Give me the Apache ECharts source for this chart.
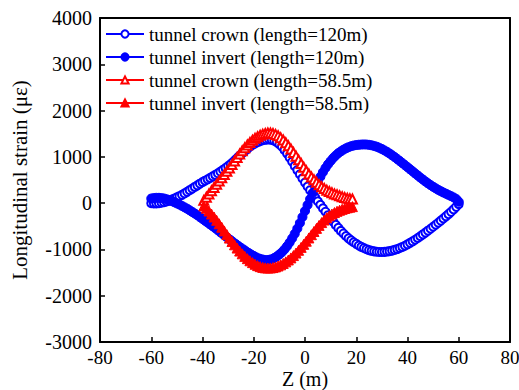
<!DOCTYPE html>
<html><head><meta charset="utf-8">
<script src="https://cdn.jsdelivr.net/npm/echarts@6/dist/echarts.min.js"></script>
<style>html,body{margin:0;padding:0;background:#fff}#c{width:519px;height:390px}</style>
</head><body><div id="c"></div>
<script>
const blueX = [-60,-59,-58,-57,-56,-55,-54,-53,-52,-51,
-50,-49,-48,-47,-46,-45,-44,-43,-42,-41,
-40,-39,-38,-37,-36,-35,-34,-33,-32,-31,
-30,-29,-28,-27,-26,-25,-24,-23,-22,-21,
-20,-19,-18,-17,-16,-15,-14,-13,-12,-11,
-10,-9,-8,-7,-6,-5,-4,-3,-2,-1,
0,1,2,3,4,5,6,7,8,9,
10,11,12,13,14,15,16,17,18,19,
20,21,22,23,24,25,26,27,28,29,
30,31,32,33,34,35,36,37,38,39,
40,41,42,43,44,45,46,47,48,49,
50,51,52,53,54,55,56,57,58,59,
60];
const crown120 = [0,-5,-5,0,10,20,35,55,75,100,
125,150,180,210,245,280,315,350,385,420,
455,485,515,545,580,610,645,680,720,760,
800,845,895,945,1000,1050,1100,1150,1200,1240,
1275,1305,1330,1350,1365,1372,1375,1368,1350,1320,
1275,1220,1150,1070,985,895,805,715,625,535,
445,360,280,200,120,40,-35,-110,-185,-260,
-330,-400,-470,-535,-600,-655,-710,-760,-805,-845,
-880,-915,-945,-970,-995,-1015,-1030,-1042,-1050,-1054,
-1055,-1052,-1046,-1037,-1025,-1010,-992,-970,-946,-920,
-890,-858,-825,-790,-753,-715,-676,-636,-595,-553,
-510,-467,-423,-378,-332,-285,-237,-188,-135,-80,
-20];
const invert120 = [100,110,115,115,110,100,85,65,45,20,
-5,-30,-60,-90,-120,-155,-190,-225,-260,-300,
-340,-380,-420,-460,-500,-540,-585,-630,-670,-715,
-760,-800,-845,-885,-925,-965,-1000,-1040,-1075,-1110,
-1140,-1170,-1195,-1210,-1225,-1230,-1225,-1210,-1185,-1150,
-1110,-1060,-1000,-930,-850,-760,-660,-550,-430,-300,
-170,-40,90,220,340,460,570,670,760,840,
910,975,1030,1080,1120,1155,1185,1210,1230,1245,
1255,1262,1266,1268,1266,1260,1250,1236,1218,1196,
1170,1140,1108,1073,1035,995,953,910,866,822,
777,732,687,642,597,553,510,468,428,390,
354,320,288,258,230,204,178,152,124,90,
30];
const redX = [-39.5,-38.5,-37.5,-36.5,-35.5,-34.5,-33.5,-32.5,-31.5,-30.5,
-29.5,-28.5,-27.5,-26.5,-25.5,-24.5,-23.5,-22.5,-21.5,-20.5,
-19.5,-18.5,-17.5,-16.5,-15.5,-14.5,-13.5,-12.5,-11.5,-10.5,
-9.5,-8.5,-7.5,-6.5,-5.5,-4.5,-3.5,-2.5,-1.5,-0.5,
0.5,1.5,2.5,3.5,4.5,5.5,6.5,7.5,8.5,9.5,
10.5,11.5,12.5,13.5,14.5,15.5,16.5,17.5,18.5];
const crown585 = [60,130,200,270,340,410,480,550,620,690,
760,835,910,985,1060,1130,1195,1255,1310,1360,
1400,1435,1465,1490,1505,1515,1515,1505,1485,1455,
1415,1365,1305,1240,1170,1095,1015,935,855,775,
700,630,565,505,450,400,355,315,280,250,
225,200,180,160,140,120,105,95,90];
const invert585 = [-60,-110,-170,-235,-300,-370,-445,-520,-600,-680,
-755,-830,-900,-970,-1035,-1095,-1150,-1200,-1245,-1285,
-1320,-1350,-1372,-1388,-1398,-1402,-1400,-1392,-1378,-1358,
-1333,-1303,-1268,-1228,-1183,-1133,-1078,-1018,-955,-890,
-822,-752,-682,-612,-545,-480,-420,-365,-315,-272,
-235,-203,-176,-153,-133,-115,-100,-87,-75];
const seriesNames = ['tunnel crown (length=120m)','tunnel invert (length=120m)','tunnel crown (length=58.5m)','tunnel invert (length=58.5m)'];
const xTitle = 'Z (m)';
const yTitle = 'Longitudinal strain (\u03bc\u03b5)';

const FONT = 'Liberation Serif';
const pair = (xs, ys) => xs.map((x, i) => [x, ys[i]]);
const BLUE = '#0000ff', RED = '#ff0000';
const plain = v => String(v);
function mk(name, xs, ys, color, symbol, size) {
  return {
    name, type: 'line', data: pair(xs, ys), symbol, symbolSize: size,
    showAllSymbol: true, animation: false,
    lineStyle: { color, width: 1 },
    itemStyle: { color, borderColor: color, borderWidth: 1 }
  };
}
const chart = echarts.init(document.getElementById('c'), null, { renderer: 'svg' });
chart.setOption({
  animation: false,
  backgroundColor: '#fff',
  textStyle: { fontFamily: FONT },
  grid: { left: 100, right: 9, top: 18, bottom: 48, show: false, outerBoundsMode: 'none', containLabel: false },
  legend: {
    orient: 'vertical', left: 105, top: 24, padding: 0, itemWidth: 38, itemHeight: 9, itemGap: 3,
    textStyle: { fontFamily: FONT, fontSize: 19, color: '#000', lineHeight: 20 },
    data: seriesNames
  },
  xAxis: [{
    type: 'value', min: -80, max: 80, interval: 20,
    name: xTitle, nameLocation: 'middle', nameGap: 27, nameMoveOverlap: false,
    nameTextStyle: { fontFamily: FONT, fontSize: 20, color: '#000', lineHeight: 20 },
    axisLine: { show: true, onZero: false, lineStyle: { color: '#000', width: 2 } },
    axisTick: { show: true, inside: true, length: 5, lineStyle: { color: '#000', width: 1.5 } },
    axisLabel: { fontFamily: FONT, fontSize: 19, color: '#000', margin: 6, lineHeight: 19, formatter: plain, showMinLabel: true, showMaxLabel: true },
    splitLine: { show: false }
  }, {
    type: 'value', min: -80, max: 80, position: 'top',
    axisLine: { show: true, onZero: false, lineStyle: { color: '#000', width: 2 } },
    axisTick: { show: false }, axisLabel: { show: false }, splitLine: { show: false }
  }],
  yAxis: [{
    type: 'value', min: -3000, max: 4000, interval: 1000,
    name: yTitle, nameLocation: 'middle', nameGap: 70, nameRotate: 90, nameMoveOverlap: false,
    nameTextStyle: { fontFamily: FONT, fontSize: 21, color: '#000' },
    axisLine: { show: true, onZero: false, lineStyle: { color: '#000', width: 2 } },
    axisTick: { show: true, inside: true, length: 5, lineStyle: { color: '#000', width: 1.5 } },
    axisLabel: { fontFamily: FONT, fontSize: 20, color: '#000', margin: 8, formatter: plain, showMinLabel: true, showMaxLabel: true },
    splitLine: { show: false }
  }, {
    type: 'value', min: -3000, max: 4000, position: 'right',
    axisLine: { show: true, onZero: false, lineStyle: { color: '#000', width: 2 } },
    axisTick: { show: false }, axisLabel: { show: false }, splitLine: { show: false }
  }],
  series: [
    mk(seriesNames[0], blueX, crown120, BLUE, 'emptyCircle', 8),
    mk(seriesNames[1], blueX, invert120, BLUE, 'circle', 9),
    mk(seriesNames[2], redX, crown585, RED, 'emptyTriangle', 9),
    mk(seriesNames[3], redX, invert585, RED, 'triangle', 10)
  ]
});
</script></body></html>
